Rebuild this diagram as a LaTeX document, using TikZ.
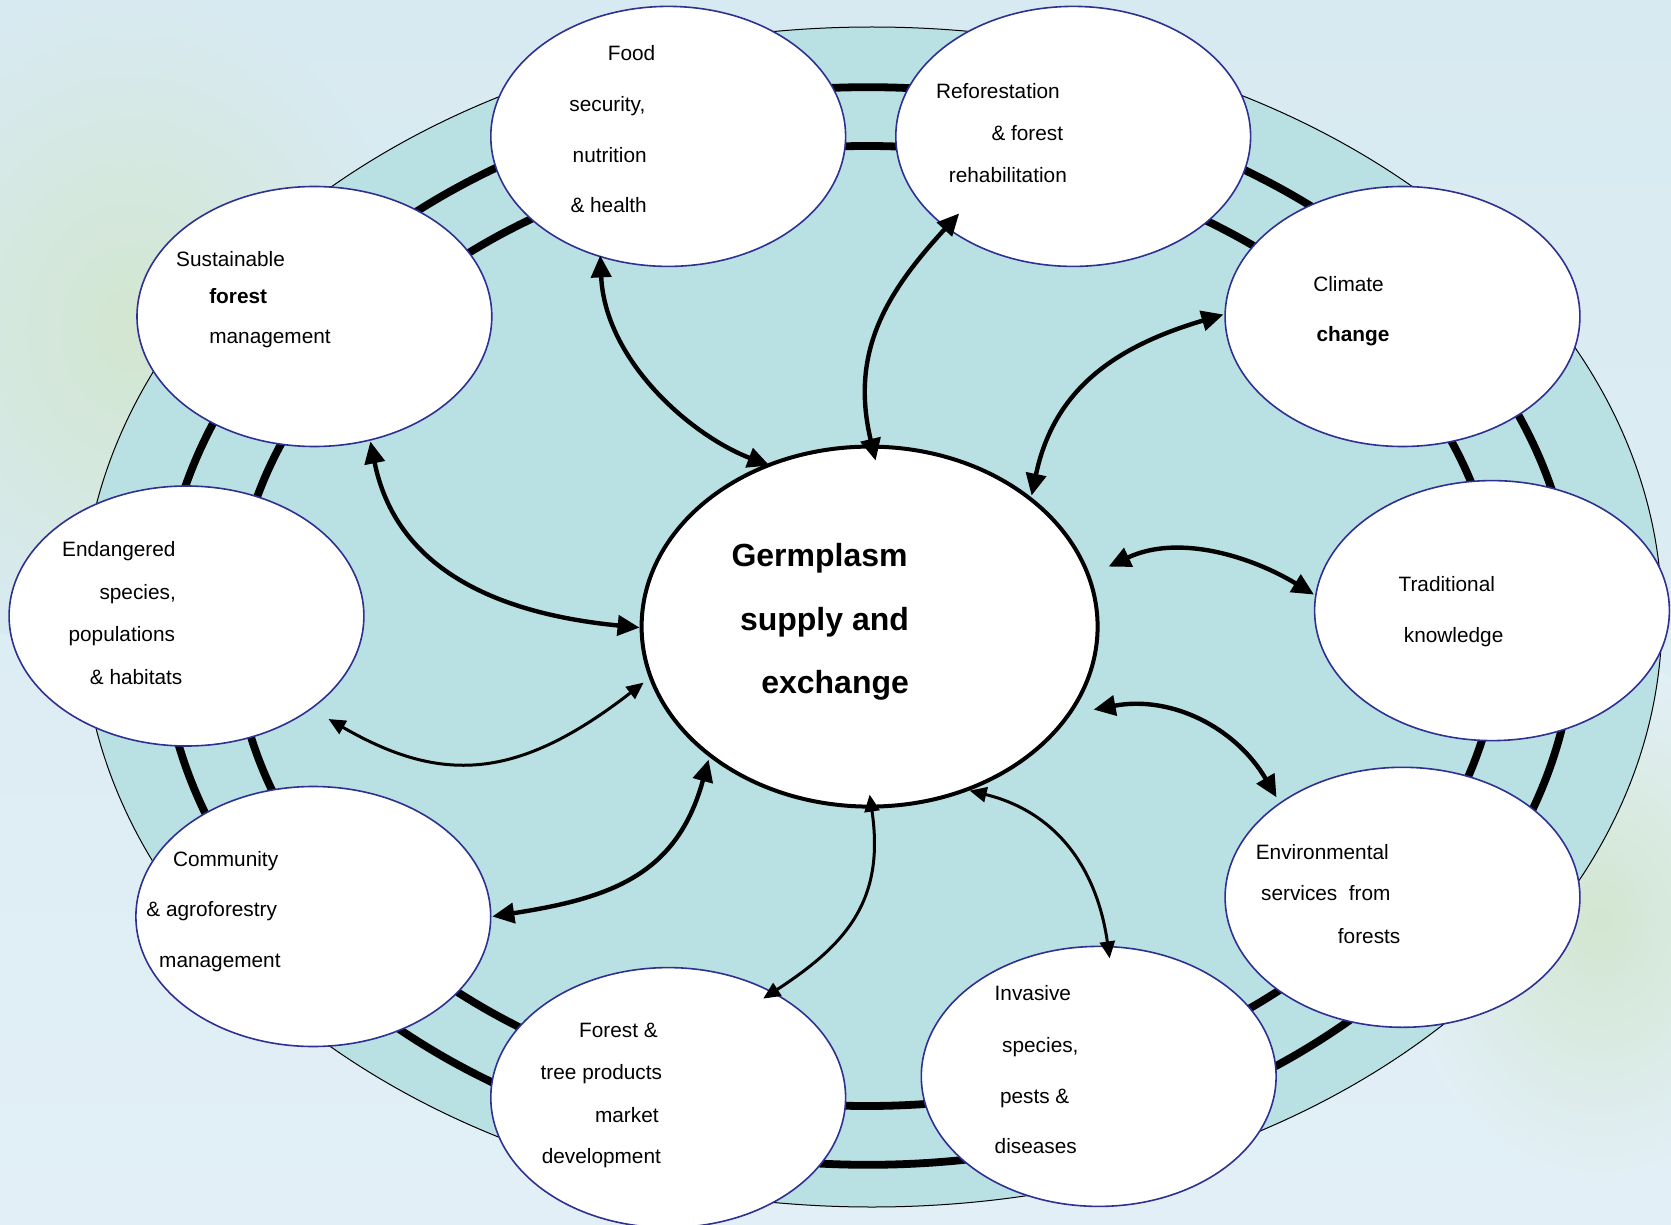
\documentclass[tikz,border=0pt]{standalone}
\usepackage{fontspec}
\setmainfont{Liberation Sans}
\usetikzlibrary{arrows.meta,calc,shapes.geometric}
\definecolor{bgtop}{HTML}{D8EAF1}
\definecolor{bgbot}{HTML}{E2EFF6}
\definecolor{leaf}{HTML}{D2E6D0}
\definecolor{ringfill}{HTML}{B9E0E3}
\definecolor{navy}{RGB}{46,49,146}
\begin{document}
\begin{tikzpicture}[x=0.5pt,y=-0.5pt,
  sat/.style={ellipse, draw=navy, line width=0.8pt, fill=white,
    minimum width=177.4pt, minimum height=130pt, inner sep=0pt},
  hub/.style={ellipse, draw=black, line width=2pt, fill=white,
    minimum width=228pt, minimum height=180pt, inner sep=0pt},
  lbl/.style={anchor=mid west, inner sep=0pt, yshift=-1.2pt, font=\fontsize{10.4}{12}\selectfont},
  lblb/.style={lbl, font=\fontsize{10.4}{12}\selectfont\bfseries},
  hublbl/.style={anchor=mid west, inner sep=0pt, yshift=-2.7pt, font=\fontsize{16}{19}\selectfont\bfseries},
  link/.style={line width=2.2pt, {Triangle[length=11pt,width=10pt]}-{Triangle[length=11pt,width=10pt]}},
  thinlink/.style={line width=1.5pt, {Triangle[length=8.5pt,width=7.5pt]}-{Triangle[length=8.5pt,width=7.5pt]}},
  ring/.style={draw=black, line width=3.9pt}
]
\useasboundingbox (0,0) rectangle (1671,1225);
\clip (0,0) rectangle (1671,1225);
% background
\shade[top color=bgtop, bottom color=bgbot] (0,0) rectangle (1671,1225);
\shade[inner color=leaf, outer color=bgtop] (130,330) ellipse [x radius=140pt, y radius=170pt];
\shade[inner color=leaf, outer color=bgbot] (1600,920) ellipse [x radius=100pt, y radius=130pt];

% outer disc and rings
\draw[fill=ringfill, line width=0.5pt] (872,617) ellipse [x radius=395pt, y radius=295pt];
\draw[ring] (868,626) ellipse [x radius=353.3pt, y radius=269.4pt];
\draw[ring] (867,626) ellipse [x radius=316.5pt, y radius=240pt];

% nodes
\node[hub] (germ) at (869.6,626.6) {};
\node[sat] (food) at (668.2,136.4) {};
\node[sat] (refor) at (1073.2,136.4) {};
\node[sat] (sust) at (314.4,316.5) {};
\node[sat] (clim) at (1402.5,316.5) {};
\node[sat] (endg) at (186.5,616) {};
\node[sat] (trad) at (1492,610.6) {};
\node[sat] (comm) at (313.3,916.5) {};
\node[sat] (envr) at (1402.5,897.3) {};
\node[sat] (forest) at (668.2,1097.6) {};
\node[sat] (invas) at (1098.7,1076.4) {};

% connectors
\draw[link] ($(food)+(-68,119)$) .. controls (605,360) and (690,435) .. ($(germ)+(-100,-161)$);
\draw[link] ($(refor)+(-114,77)$) .. controls (885,294) and (850,353) .. ($(germ)+(6,-166)$);
\draw[link] ($(clim)+(-179,-2)$) .. controls (1117,346) and (1054,388) .. ($(germ)+(162,-131)$);
\draw[link] ($(germ)+(239,-60)$) .. controls (1180,533) and (1254,558) .. ($(trad)+(-178,-16)$);
\draw[link] ($(germ)+(224,83)$) .. controls (1172,695) and (1236,728) .. ($(envr)+(-126,-100)$);
\draw[thinlink] ($(germ)+(100,164)$) .. controls (1057,812) and (1097,869) .. ($(invas)+(11,-118)$);
\draw[thinlink] ($(germ)+(0,168)$) .. controls (885,900) and (847,944) .. ($(forest)+(95,-99)$);
\draw[link] ($(germ)+(-161,133)$) .. controls (677,875) and (611,898) .. ($(comm)+(179,0)$);
\draw[thinlink] ($(germ)+(-226,56)$) .. controls (517,781) and (441,784) .. ($(endg)+(142,103)$);
\draw[link] ($(sust)+(56,125)$) .. controls (394,559) and (480,612) .. ($(germ)+(-230,1)$);

% texts
\node[hublbl] (g1) at (731.1,556.3) {Germplasm};
\node[hublbl] (g2) at (739.6,620.2) {supply and};
\node[hublbl] (g3) at (760.9,683.1) {exchange};

\node[lbl] (f1) at (607.5,53.3) {Food};
\node[lbl] (f2) at (569,103.4) {security,};
\node[lbl] (f3) at (572.3,154.5) {nutrition};
\node[lbl] (f4) at (570.1,204.6) {\& health};

\node[lbl] (r1) at (935.7,90.6) {Reforestation};
\node[lbl] (r2) at (991.1,133.2) {\& forest};
\node[lbl] (r3) at (948.5,174.8) {rehabilitation};

\node[lbl] (s1) at (175.8,259) {Sustainable};
\node[lblb] (s2) at (208.9,296.3) {forest};
\node[lbl] (s3) at (208.9,335.7) {management};

\node[lbl] (c1) at (1312.9,283.5) {Climate};
\node[lblb] (c2) at (1316.1,333.6) {change};

\node[lbl] (e1) at (61.8,548.8) {Endangered};
\node[lbl] (e2) at (99.1,591.5) {species,};
\node[lbl] (e3) at (68.2,634.1) {populations};
\node[lbl] (e4) at (89.5,676.7) {\& habitats};

\node[lbl] (t1) at (1398.2,584) {Traditional};
\node[lbl] (t2) at (1403.5,635.2) {knowledge};

\node[lbl] (m1) at (172.6,859) {Community};
\node[lbl] (m2) at (146,909) {\& agroforestry};
\node[lbl] (m3) at (158.8,960.2) {management};

\node[lbl] (v1) at (1255.4,851.5) {Environmental};
\node[lbl] (v2) at (1260.7,893) {services~~from};
\node[lbl] (v3) at (1337.5,935.7) {forests};

\node[lbl] (i1) at (994.3,993.2) {Invasive};
\node[lbl] (i2) at (1001.8,1044.4) {species,};
\node[lbl] (i3) at (999.6,1095.5) {pests \&};
\node[lbl] (i4) at (994.3,1145.6) {diseases};

\node[lbl] (p1) at (578.7,1029.5) {Forest \&};
\node[lbl] (p2) at (540.3,1072.1) {tree products};
\node[lbl] (p3) at (594.7,1114.7) {market};
\node[lbl] (p4) at (541.4,1156.3) {development};
\end{tikzpicture}
\end{document}
